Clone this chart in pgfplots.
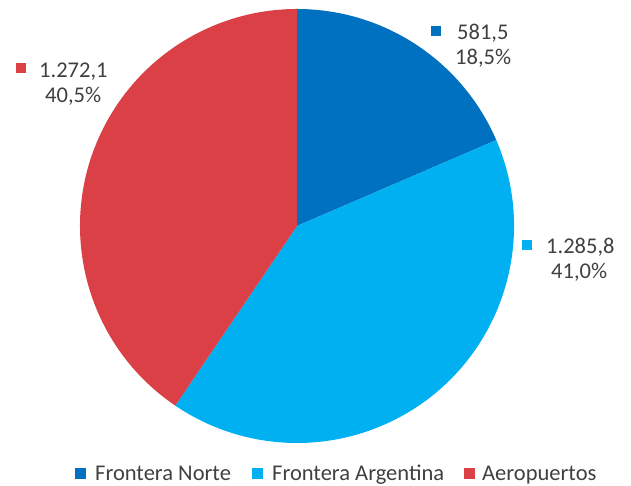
\documentclass[border=0pt]{standalone}
\usepackage{pgfplots}
\pgfplotsset{compat=1.18}
\usepackage{fontspec}
\setmainfont{Carlito}
\definecolor{cNorte}{RGB}{0,112,192}
\definecolor{cArg}{RGB}{0,176,240}
\definecolor{cAer}{RGB}{218,64,70}
\definecolor{txt}{RGB}{64,64,64}
\tikzset{lbl/.style={font=\fontsize{22.5bp}{27bp}\selectfont,text=txt,inner sep=0pt,anchor=base west}}
% values (miles)
\def\vA{581.5}\def\vB{1285.8}\def\vC{1272.1}
\pgfmathsetmacro\tot{\vA+\vB+\vC}
\pgfmathsetmacro\aA{90}
\pgfmathsetmacro\aB{\aA-360*(\vA/\tot)}
\pgfmathsetmacro\aC{\aB-360*(\vB/\tot)}
\pgfmathsetmacro\aD{\aC-360*(\vC/\tot)}
\begin{document}
\begin{tikzpicture}
\path[use as bounding box] (0,0) rectangle (631bp,486bp);
\begin{axis}[at={(0,0)},anchor=south west,scale only axis,
  width=631bp,height=486bp,xmin=0,xmax=631,ymin=0,ymax=486,
  hide axis,clip=false]
  % pie wedges, centre (297,260) in axis units, radius 217bp
  \fill[cNorte] (axis cs:297,260) -- ++(\aA:217bp) arc[start angle=\aA,end angle=\aB,radius=217bp] -- cycle;
  \fill[cArg] (axis cs:297,260) -- ++(\aB:217bp) arc[start angle=\aB,end angle=\aC,radius=217bp] -- cycle;
  \fill[cAer] (axis cs:297,260) -- ++(\aC:217bp) arc[start angle=\aC,end angle=\aD,radius=217bp] -- cycle;
  % data label markers
  \addplot[only marks,mark=square*,mark size=4.5bp,cNorte,mark options={line width=0pt}] coordinates {(435.5,455)};
  \addplot[only marks,mark=square*,mark size=4.5bp,cArg,mark options={line width=0pt}] coordinates {(527,241)};
  \addplot[only marks,mark=square*,mark size=4.5bp,cAer,mark options={line width=0pt}] coordinates {(21,418)};
  \node[lbl] at (axis cs:457,446) {581,5};
  \node[lbl] at (axis cs:455,421) {18,5\%};
  \node[lbl] at (axis cs:546,232) {1.285,8};
  \node[lbl] at (axis cs:551,207) {41,0\%};
  \node[lbl] at (axis cs:39,408) {1.272,1};
  \node[lbl] at (axis cs:45,383) {40,5\%};
  % legend
  \addplot[only marks,mark=square*,mark size=5bp,cNorte,mark options={line width=0pt}] coordinates {(80.5,12)};
  \addplot[only marks,mark=square*,mark size=5bp,cArg,mark options={line width=0pt}] coordinates {(257.5,12)};
  \addplot[only marks,mark=square*,mark size=5bp,cAer,mark options={line width=0pt}] coordinates {(469.5,12)};
  \node[lbl] at (axis cs:95,6) {Frontera Norte};
  \node[lbl] at (axis cs:272,6) {Frontera Argentina};
  \node[lbl] at (axis cs:482,6) {Aeropuertos};
\end{axis}
\end{tikzpicture}
\end{document}
